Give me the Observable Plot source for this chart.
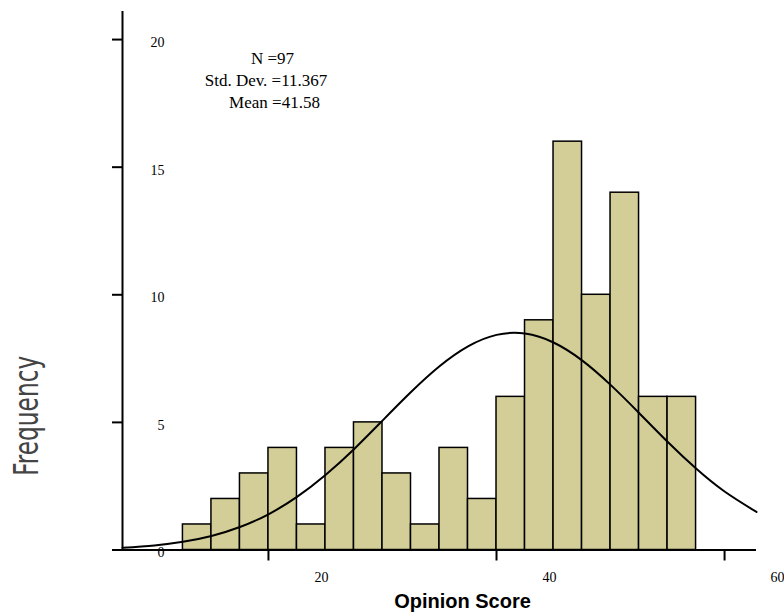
<!DOCTYPE html>
<html><head><meta charset="utf-8">
<script src="https://cdn.jsdelivr.net/npm/d3@7"></script>
<script src="https://cdn.jsdelivr.net/npm/@observablehq/plot@0.6"></script>
<style>body{margin:0;background:#fff;}</style>
</head><body><div id="chart"></div>
<script>
// Histogram bins (lower edges) and counts
const binStart = [12.5, 15, 17.5, 20, 22.5, 25, 27.5, 30, 32.5, 35, 37.5, 40, 42.5, 45, 47.5, 50, 52.5, 55];
const binWidth = 2.5;
const counts = [1, 2, 3, 4, 1, 4, 5, 3, 1, 4, 2, 6, 9, 16, 10, 14, 6, 6];
// Fitted normal curve
const curveX = [7.2, 10, 12.5, 15, 17.5, 20, 22.5, 25, 27.5, 30, 32.5, 35, 37.5, 40, 42.5, 45, 47.5, 50, 52.5, 55, 57.5, 60, 62.8];
const curveY = [0.09, 0.18, 0.32, 0.55, 0.90, 1.40, 2.08, 2.94, 3.95, 5.07, 6.19, 7.20, 7.98, 8.43, 8.48, 8.13, 7.43, 6.47, 5.37, 4.24, 3.19, 2.29, 1.49];
const xTicks = [20, 40, 60];
const yTicks = [0, 5, 10, 15, 20];
const statLines = ["N =97", "Std. Dev. =11.367", "Mean =41.58"];
const xTitle = "Opinion Score";
const yTitle = "Frequency";
const xDomain = [7.2, 62.8];
const yDomain = [0, 21.1];

const bars = binStart.map((x, i) => ({x1: x, x2: x + binWidth, count: counts[i]}));
const curve = curveX.map((x, i) => ({x, y: curveY[i]}));

const serif = "'Liberation Serif', 'Times New Roman', Times, serif";
const sans = "'Liberation Sans', Arial, Helvetica, sans-serif";
const narrow = "'Liberation Sans Narrow', 'Arial Narrow', 'DejaVu Sans Condensed', sans-serif";

const plot = Plot.plot({
  width: 784, height: 612,
  marginLeft: 122, marginRight: 28, marginTop: 11, marginBottom: 62.5,
  style: {fontFamily: serif, fontSize: "14px", background: "#fff", color: "#000", overflow: "visible"},
  x: {domain: xDomain},
  y: {domain: yDomain},
  marks: [
    Plot.rectY(bars, {x1: "x1", x2: "x2", y: "count", fill: "#d3ce98", stroke: "#000", strokeWidth: 1.5}),
    Plot.line(curve, {x: "x", y: "y", curve: "natural", stroke: "#000", strokeWidth: 2}),
    Plot.ruleX([xDomain[0]], {stroke: "#000", strokeWidth: 2}),
    Plot.ruleY([0], {stroke: "#000", strokeWidth: 2, insetLeft: -10}),
    Plot.axisY({ticks: yTicks, tickSize: 10, fill: "none", stroke: "#000", strokeWidth: 2, label: null}),
    Plot.axisY({ticks: yTicks, tickSize: 0, tickPadding: -42, dy: 3, label: null, fill: "#000", fontSize: 14, fontFamily: serif}),
    Plot.axisX({ticks: xTicks, tickSize: 11, fill: "none", stroke: "#000", strokeWidth: 2, label: null}),
    Plot.axisX({ticks: xTicks, tickSize: 0, tickPadding: 22, dx: 53, label: null, fill: "#000", fontSize: 14, fontFamily: serif}),
    Plot.text([statLines[0]], {text: d => d, frameAnchor: "top-left", dx: 150, dy: 52, lineAnchor: "bottom", textAnchor: "middle", fontSize: 17, fontFamily: serif}),
    Plot.text([statLines[1]], {text: d => d, frameAnchor: "top-left", dx: 143.5, dy: 74, lineAnchor: "bottom", textAnchor: "middle", fontSize: 17, fontFamily: serif}),
    Plot.text([statLines[2]], {text: d => d, frameAnchor: "top-left", dx: 152, dy: 96, lineAnchor: "bottom", textAnchor: "middle", fontSize: 17, fontFamily: serif}),
    Plot.text([xTitle], {text: d => d, frameAnchor: "bottom", dx: 23, dy: 58, lineAnchor: "bottom", textAnchor: "middle", fontSize: 20, fontWeight: "bold", fontFamily: sans}),
    Plot.text([yTitle], {text: d => d, frameAnchor: "left", rotate: -90, dx: -85, dy: 135, lineAnchor: "bottom", textAnchor: "middle", fontSize: 34, fontFamily: narrow, fill: "#444"})
  ]
});
d3.select(plot).selectAll('g[aria-label$="tick label"] text').style("font-size", "14px");
d3.select(plot).selectAll("text").filter(function() { return this.textContent === yTitle; })
  .attr("textLength", 120).attr("lengthAdjust", "spacingAndGlyphs");
document.getElementById("chart").appendChild(plot);
</script>
</body></html>
